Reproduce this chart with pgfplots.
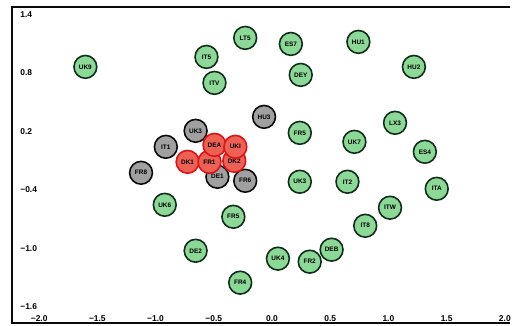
\documentclass[border=0pt]{standalone}
\usepackage{fontspec}
\setmainfont{Liberation Sans}
\usepackage{pgfplots}
\pgfplotsset{compat=1.18}
\definecolor{gfill}{RGB}{140,216,150}
\definecolor{gline}{RGB}{15,45,25}
\definecolor{kfill}{RGB}{160,160,160}
\definecolor{kline}{RGB}{10,10,10}
\definecolor{rfill}{RGB}{236,96,86}
\definecolor{rline}{RGB}{222,20,20}
\begin{document}
\begin{tikzpicture}
\begin{axis}[
  scale only axis, width=502pt, height=318pt,
  xmin=-2.234, xmax=2.046, ymin=-1.76, ymax=1.474,
  axis line style={draw=none},
  clip=false,
  xtick={-2,-1.5,-1,-0.5,0,0.5,1,1.5,2},
  xticklabels={−2.0,−1.5,−1.0,−0.5,0.0,0.5,1.0,1.5,2.0},
  ytick={-1.6,-1.0,-0.4,0.2,0.8,1.4},
  yticklabels={−1.6,−1.0,−0.4,0.2,0.8,1.4},
  major tick length=0pt,
  tick label style={font=\fontsize{8.5}{8.5}\selectfont\bfseries},
  yticklabel style={anchor=west, xshift=5pt},
  xticklabel style={anchor=south, yshift=-3pt},
  point meta=explicit symbolic,
  nodes near coords,
  every node near coord/.append style={anchor=center, font=\fontsize{6.5}{6.5}\selectfont\bfseries, text=black, inner sep=0pt},
]
\draw[line width=2pt, kline] (rel axis cs:1,1) -- (rel axis cs:0,1) -- (rel axis cs:0,0) -- (rel axis cs:1,0);
% green
\addplot[only marks, mark=*, mark size=11.5pt, mark options={fill=gfill, draw=gline, line width=1.6pt}] table[meta=label] {
x y label
-1.603 0.860 UK9
-0.563 0.962 IT5
-0.230 1.157 LT5
0.162 1.095 ES7
0.742 1.116 HU1
1.219 0.860 HU2
-0.494 0.696 ITV
0.247 0.778 DEY
0.239 0.184 FR5
0.708 0.092 UK7
1.057 0.287 LX3
1.313 -0.010 ES4
1.415 -0.389 ITA
0.239 -0.317 UK3
0.648 -0.317 IT2
1.014 -0.583 ITW
0.801 -0.768 IT8
0.512 -1.013 DEB
0.324 -1.136 FR2
0.051 -1.105 UK4
-0.921 -0.553 UK6
-0.332 -0.676 FR5
-0.656 -1.024 DE2
-0.273 -1.351 FR4
};
% gray
\addplot[only marks, mark=*, mark size=11.5pt, mark options={fill=kfill, draw=kline, line width=1.6pt}] table[meta=label] {
x y label
-0.068 0.348 HU3
-0.656 0.205 UK3
-0.912 0.041 IT1
-1.125 -0.225 FR8
-0.469 -0.266 DE1
-0.230 -0.307 FR6
};
% red
\addplot[only marks, mark=*, mark size=11.5pt, mark options={fill=rfill, draw=rline, line width=1.6pt}] table[meta=label] {
x y label
-0.725 -0.113 DK1
-0.537 -0.113 FR1
-0.324 -0.102 DK2
-0.494 0.061 DEA
-0.315 0.041 UKI
};
\end{axis}
\path ([xshift=-12pt,yshift=-2pt]current axis.south west) rectangle ([yshift=7pt]current axis.north east);
\end{tikzpicture}
\end{document}
